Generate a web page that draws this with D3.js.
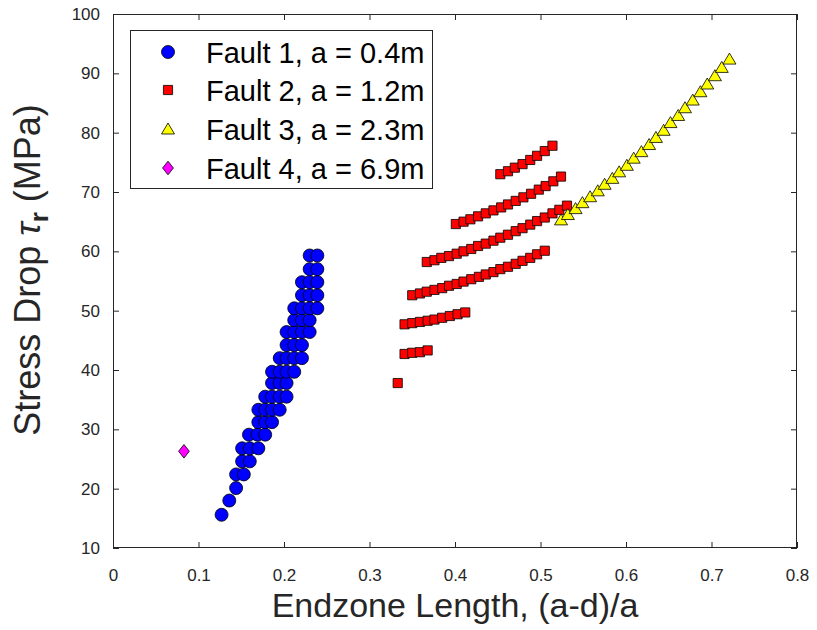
<!DOCTYPE html>
<html>
<head>
<meta charset="utf-8">
<script src="https://cdn.jsdelivr.net/npm/d3@7"></script>
<style>
  body { margin: 0; background: #fff; }
  svg { display: block; font-family: "Liberation Sans", Arial, Helvetica, sans-serif; }
</style>
</head>
<body>
<svg id="chart" width="817" height="630"></svg>
<script>
// ---- data ----
const xTicks = [0, 0.1, 0.2, 0.3, 0.4, 0.5, 0.6, 0.7, 0.8];
const xTickLabels = ["0", "0.1", "0.2", "0.3", "0.4", "0.5", "0.6", "0.7", "0.8"];
const yTicks = [10, 20, 30, 40, 50, 60, 70, 80, 90, 100];
const yTickLabels = ["10", "20", "30", "40", "50", "60", "70", "80", "90", "100"];

const seriesNames = ["Fault 1, a = 0.4m", "Fault 2, a = 1.2m", "Fault 3, a = 2.3m", "Fault 4, a = 6.9m"];

// Fault 1 (a = 0.4 m)
const fault1X = [
  0.127,
  0.136,
  0.144,
  0.144, 0.153,
  0.151, 0.160,
  0.151, 0.160, 0.170,
  0.159, 0.169, 0.178,
  0.170, 0.178, 0.186,
  0.170, 0.178, 0.186, 0.195,
  0.178, 0.186, 0.195, 0.203,
  0.186, 0.195, 0.203,
  0.186, 0.195, 0.203, 0.212,
  0.195, 0.203, 0.212, 0.221,
  0.203, 0.212, 0.221,
  0.203, 0.212, 0.221, 0.230,
  0.212, 0.221, 0.230,
  0.212, 0.221, 0.230, 0.239,
  0.221, 0.230, 0.239,
  0.221, 0.230, 0.239,
  0.230, 0.239,
  0.230, 0.239
];
const fault1Y = [
  15.6,
  18.0,
  20.1,
  22.4, 22.4,
  24.6, 24.6,
  26.8, 26.8, 26.8,
  29.1, 29.1, 29.1,
  31.2, 31.2, 31.2,
  33.3, 33.3, 33.3, 33.3,
  35.5, 35.5, 35.5, 35.5,
  37.8, 37.8, 37.8,
  39.7, 39.7, 39.7, 39.7,
  42.0, 42.0, 42.0, 42.0,
  44.2, 44.2, 44.2,
  46.4, 46.4, 46.4, 46.4,
  48.4, 48.4, 48.4,
  50.4, 50.4, 50.4, 50.4,
  52.6, 52.6, 52.6,
  54.8, 54.8, 54.8,
  57.0, 57.0,
  59.3, 59.3
];

// Fault 2 (a = 1.2 m)
const fault2X = [
  0.333,
  0.341, 0.350, 0.359, 0.368,
  0.341, 0.350, 0.359, 0.368, 0.376, 0.385, 0.394, 0.403, 0.412,
  0.350, 0.359, 0.367, 0.376, 0.385, 0.393, 0.402, 0.410, 0.419, 0.428,
  0.436, 0.445, 0.453, 0.462, 0.471, 0.479, 0.488, 0.496, 0.505,
  0.367, 0.376, 0.384, 0.393, 0.402, 0.410, 0.419, 0.427, 0.436, 0.445,
  0.453, 0.462, 0.471, 0.479, 0.488, 0.496, 0.505, 0.514, 0.522, 0.531,
  0.401, 0.410, 0.418, 0.427, 0.436, 0.445, 0.454, 0.462, 0.471, 0.480,
  0.489, 0.498, 0.506, 0.515, 0.524,
  0.453, 0.462, 0.470, 0.479, 0.488, 0.496, 0.505, 0.514
];
const fault2Y = [
  37.8,
  42.7, 42.9, 43.0, 43.3,
  47.7, 47.9, 48.1, 48.3, 48.5, 48.8, 49.1, 49.4, 49.7,
  52.6, 52.9, 53.2, 53.5, 53.8, 54.2, 54.5, 54.9, 55.3, 55.7,
  56.1, 56.5, 57.0, 57.4, 57.9, 58.4, 58.9, 59.5, 60.1,
  58.2, 58.5, 58.9, 59.2, 59.6, 60.0, 60.4, 60.9, 61.3, 61.8,
  62.3, 62.8, 63.4, 63.9, 64.5, 65.1, 65.7, 66.4, 67.0, 67.7,
  64.6, 65.0, 65.4, 65.9, 66.4, 66.9, 67.4, 67.9, 68.5, 69.1,
  69.7, 70.4, 71.0, 71.8, 72.6,
  73.0, 73.5, 74.1, 74.7, 75.4, 76.1, 76.9, 77.8
];

// Fault 3 (a = 2.3 m)
const fault3X = [
  0.524, 0.532, 0.541, 0.549, 0.558, 0.567, 0.575, 0.584, 0.592, 0.601, 0.609, 0.618,
  0.627, 0.635, 0.644, 0.652, 0.661, 0.669, 0.678, 0.687, 0.695, 0.704, 0.712, 0.721
];
const fault3Y = [
  65.3, 66.2, 67.2, 68.2, 69.2, 70.2, 71.3, 72.3, 73.4, 74.5, 75.7, 76.8,
  78.0, 79.2, 80.4, 81.7, 82.9, 84.2, 85.5, 86.9, 88.2, 89.6, 91.0, 92.4
];

// Fault 4 (a = 6.9 m)
const fault4X = [0.083];
const fault4Y = [26.3];

// ---- layout ----
const svg = d3.select("#chart");
const plot = { left: 113, right: 797, top: 14, bottom: 548 };
const axisColor = "#262626";
const tickLen = 6;

const x = d3.scaleLinear().domain([0, 0.8]).range([plot.left, plot.right]);
const y = d3.scaleLinear().domain([10, 100]).range([plot.bottom, plot.top]);

// marker shapes, centred on the data point
const markerPath = {
  circle: () => d3.symbol(d3.symbolCircle, Math.PI * 6.5 * 6.5)(),
  square: () => "M-4.6,-4.6H4.6V4.6H-4.6Z",
  triangle: () => "M0,-6L6.5,5H-6.5Z",
  diamond: () => "M0,-6.8L5.4,0L0,6.8L-5.4,0Z"
};

const series = [
  { name: seriesNames[0], xs: fault1X, ys: fault1Y, shape: "circle", fill: "#0000ff" },
  { name: seriesNames[1], xs: fault2X, ys: fault2Y, shape: "square", fill: "#ff0000" },
  { name: seriesNames[2], xs: fault3X, ys: fault3Y, shape: "triangle", fill: "#ffff00" },
  { name: seriesNames[3], xs: fault4X, ys: fault4Y, shape: "diamond", fill: "#ff00ff" }
];

// ---- axes ----
const fmtX = (d, i) => xTickLabels[i];
const fmtY = (d, i) => yTickLabels[i];

const gx = svg.append("g")
  .attr("transform", `translate(0,${plot.bottom})`)
  .call(d3.axisBottom(x).tickValues(xTicks).tickFormat(fmtX).tickSize(-tickLen).tickPadding(21));
const gy = svg.append("g")
  .attr("transform", `translate(${plot.left},0)`)
  .call(d3.axisLeft(y).tickValues(yTicks).tickFormat(fmtY).tickSize(-tickLen).tickPadding(13));
const gxTop = svg.append("g")
  .attr("transform", `translate(0,${plot.top})`)
  .call(d3.axisTop(x).tickValues(xTicks).tickFormat("").tickSize(-tickLen));
const gyRight = svg.append("g")
  .attr("transform", `translate(${plot.right},0)`)
  .call(d3.axisRight(y).tickValues(yTicks).tickFormat("").tickSize(-tickLen));

[gx, gy, gxTop, gyRight].forEach(g => {
  g.select(".domain").remove();
  g.selectAll(".tick line").attr("stroke", axisColor).attr("stroke-width", 1);
  g.selectAll(".tick text")
    .attr("fill", axisColor)
    .style("font-family", '"Liberation Sans", Arial, sans-serif')
    .style("font-size", "17px");
});

// axes box
svg.append("rect")
  .attr("x", plot.left + 0.5).attr("y", plot.top + 0.5)
  .attr("width", plot.right - plot.left - 1).attr("height", plot.bottom - plot.top - 1)
  .attr("fill", "none").attr("stroke", axisColor).attr("stroke-width", 1);

// ---- markers ----
series.forEach(s => {
  svg.append("g").selectAll("path")
    .data(s.xs.map((v, i) => [v, s.ys[i]]))
    .join("path")
    .attr("d", markerPath[s.shape]())
    .attr("transform", d => `translate(${x(d[0])},${y(d[1])})`)
    .attr("fill", s.fill)
    .attr("stroke", "#000")
    .attr("stroke-width", 0.8);
});

// ---- axis titles ----
svg.append("text")
  .attr("x", (plot.left + plot.right) / 2)
  .attr("y", 617)
  .attr("text-anchor", "middle")
  .attr("fill", axisColor)
  .style("font-size", "34px")
  .text("Endzone Length, (a-d)/a");

const yTitle = svg.append("text")
  .attr("transform", `translate(40,270) rotate(-90)`)
  .attr("text-anchor", "middle")
  .attr("fill", axisColor)
  .style("font-size", "36px");
yTitle.append("tspan").text("Stress Drop ");
yTitle.append("tspan").style("font-style", "italic").text("τ");
yTitle.append("tspan").attr("dy", 8).style("font-size", "26px").style("font-weight", "bold").text("r");
yTitle.append("tspan").attr("dy", -8).text(" (MPa)");

// ---- legend ----
const legend = svg.append("g");
legend.append("rect")
  .attr("x", 130.5).attr("y", 30.5).attr("width", 302).attr("height", 158)
  .attr("fill", "#fff").attr("stroke", axisColor).attr("stroke-width", 1);

const legendRows = [52, 90, 129, 168];
series.forEach((s, i) => {
  legend.append("path")
    .attr("d", markerPath[s.shape]())
    .attr("transform", `translate(168,${legendRows[i]})`)
    .attr("fill", s.fill).attr("stroke", "#000").attr("stroke-width", 0.8);
  legend.append("text")
    .attr("x", 206).attr("y", legendRows[i] + 10.5)
    .attr("fill", "#000")
    .style("font-size", "29px")
    .text(s.name);
});
</script>
</body>
</html>
